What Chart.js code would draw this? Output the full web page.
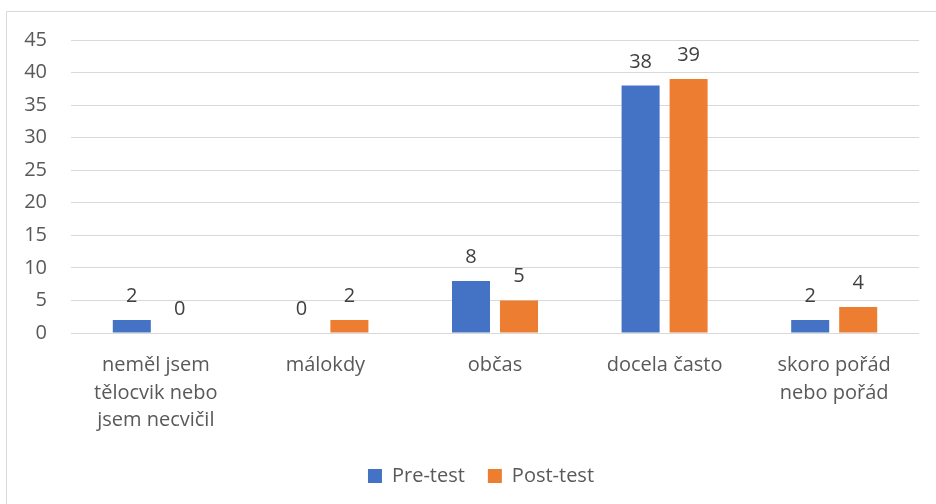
<!DOCTYPE html>
<html>
<head>
<meta charset="utf-8">
<style>
  html, body { margin: 0; padding: 0; background: #ffffff; }
  #wrap { position: relative; width: 936px; height: 504px; }
</style>
<script src="https://cdn.jsdelivr.net/npm/chart.js@4/dist/chart.umd.min.js"></script>
</head>
<body>
<div id="wrap"><canvas id="chart" width="936" height="504"></canvas></div>
<script>
// Categories (multi-line labels) and series values
const categories = [
  ['neměl jsem', 'tělocvik nebo', 'jsem necvičil'],
  ['málokdy'],
  ['občas'],
  ['docela často'],
  ['skoro pořád', 'nebo pořád']
];
const preTest = [2, 0, 8, 38, 2];
const postTest = [0, 2, 5, 39, 4];
const seriesNames = ['Pre-test', 'Post-test'];
const yMax = 45;
const yStep = 5;

const FONT = "'Open Sans', 'Liberation Sans', sans-serif";

// Light frame around the chart
const framePlugin = {
  id: 'frame',
  beforeDraw(chart) {
    const ctx = chart.ctx;
    ctx.save();
    ctx.fillStyle = '#ffffff';
    ctx.fillRect(0, 0, chart.width, chart.height);
    ctx.strokeStyle = '#d9d9d9';
    ctx.lineWidth = 1;
    ctx.beginPath();
    ctx.moveTo(6.5, chart.height);
    ctx.lineTo(6.5, 11.5);
    ctx.lineTo(chart.width, 11.5);
    ctx.stroke();
    ctx.restore();
  }
};

// Centre the legend row under the framed area rather than the full canvas
const legendShift = {
  id: 'legendShift',
  afterLayout(chart) {
    if (chart.legend) {
      chart.legend.left += 43;
    }
  }
};

// Value labels above each bar
const valueLabels = {
  id: 'valueLabels',
  afterDatasetsDraw(chart) {
    const ctx = chart.ctx;
    ctx.save();
    ctx.font = '20px ' + FONT;
    ctx.fillStyle = '#404040';
    ctx.textAlign = 'center';
    ctx.textBaseline = 'alphabetic';
    chart.data.datasets.forEach((ds, di) => {
      const meta = chart.getDatasetMeta(di);
      meta.data.forEach((bar, i) => {
        ctx.fillText(String(ds.data[i]), bar.x, bar.y - 18);
      });
    });
    ctx.restore();
  }
};

new Chart(document.getElementById('chart'), {
  type: 'bar',
  data: {
    labels: categories,
    datasets: [
      { label: seriesNames[0], data: preTest, backgroundColor: '#4472C4', borderWidth: 0 },
      { label: seriesNames[1], data: postTest, backgroundColor: '#ED7D31', borderWidth: 0 }
    ]
  },
  options: {
    responsive: false,
    animation: false,
    events: [],
    datasets: {
      bar: { categoryPercentage: 0.566, barPercentage: 0.792 }
    },
    layout: { padding: { top: 40, left: 0, right: 17, bottom: 8 } },
    plugins: {
      tooltip: { enabled: false },
      legend: {
        position: 'bottom',
        labels: {
          boxWidth: 14,
          boxHeight: 14,
          padding: 23,
          color: '#595959',
          font: { family: FONT, size: 20 }
        }
      }
    },
    scales: {
      x: {
        grid: { display: false, drawTicks: false },
        border: { display: false },
        ticks: {
          color: '#595959',
          padding: 19,
          maxRotation: 0,
          autoSkip: false,
          font: { family: FONT, size: 20, lineHeight: 1.375 }
        },
        afterFit(scale) { scale.height = 110; }
      },
      y: {
        min: 0,
        max: yMax,
        grid: { color: '#d9d9d9', lineWidth: 1, drawTicks: false },
        border: { display: false },
        ticks: {
          stepSize: yStep,
          color: '#595959',
          padding: 24,
          font: { family: FONT, size: 20 }
        },
        afterFit(scale) { scale.width = 71; }
      }
    }
  },
  plugins: [framePlugin, legendShift, valueLabels]
});
</script>
</body>
</html>
